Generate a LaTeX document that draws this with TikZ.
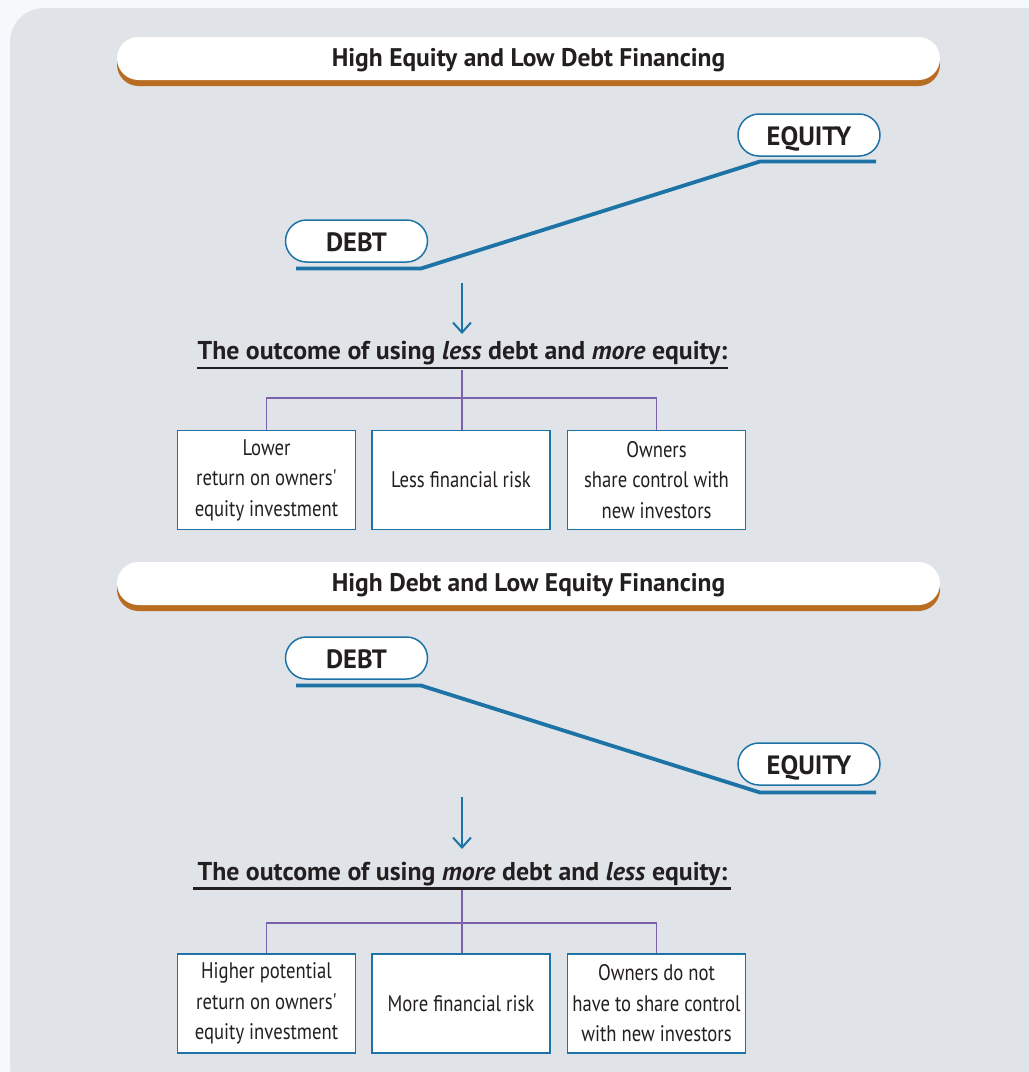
\documentclass[tikz,border=0pt]{standalone}
\usepackage{fontspec}
\setmainfont{PT Sans}
\newfontfamily\narrowfont[FakeStretch=0.83]{PT Sans}
\usetikzlibrary{arrows.meta,shadows}

\definecolor{pagebg}{HTML}{F6F9FB}
\definecolor{panelbg}{HTML}{E0E4E8}
\definecolor{bannershade}{HTML}{B96D22}
\definecolor{steel}{HTML}{1E73A6}
\definecolor{violet}{HTML}{7B62AC}
\definecolor{ink}{HTML}{231F20}

\tikzset{
  banner/.style={rectangle, rounded corners=21.5pt, fill=white,
    minimum width=823pt, minimum height=43pt, inner sep=0pt,
    text height=18pt, text depth=3pt,
    text=ink, font=\bfseries\fontsize{25.5}{30}\selectfont,
    drop shadow={shadow xshift=0pt, shadow yshift=-6pt, fill=bannershade, opacity=1}},
  pill/.style={rectangle, rounded corners=21pt, fill=white, draw=steel,
    line width=1.5pt, minimum width=142pt, minimum height=42pt, inner sep=0pt,
    text height=20pt, text depth=0pt,
    text=ink, font=\bfseries\fontsize{26.5}{30}\selectfont},
  heading/.style={inner sep=0pt, text=ink, font=\bfseries\fontsize{25.8}{30}\selectfont},
  outbox/.style={rectangle, draw=steel, line width=1.8pt, fill=white,
    minimum width=178pt, minimum height=99pt, inner sep=0pt, align=center,
    text=ink, font=\narrowfont\fontsize{22.5}{30.5}\selectfont},
  level/.style={draw=steel, line width=3.8pt},
  flow/.style={draw=steel, line width=2pt, -{Straight Barb[length=10pt,width=18pt,line width=2pt]}},
  rule/.style={draw=ink, line width=2.8pt},
  branch/.style={draw=violet, line width=1.6pt},
}

\begin{document}
\begin{tikzpicture}[x=1pt,y=-1pt]
  % page and panel
  \fill[pagebg] (0,0) rectangle (1029,1072);
  \useasboundingbox (0,0) rectangle (1029,1072);
  \fill[panelbg, rounded corners=34pt] (10,8) rectangle (1060,1100);

  % ---------- upper section ----------
  \node[banner] (ban1) at (528.5,58.5) {High Equity and Low Debt Financing};

  \node[pill] (eq1) at (809,135) {EQUITY};
  \node[pill] (db1) at (356.5,241) {DEBT};
  \coordinate (d1a) at (296,268.5);
  \coordinate (d1b) at (421,268.5);
  \coordinate (e1a) at (760,161.5);
  \coordinate (e1b) at (876,161.5);
  \draw[level] (d1a) -- (d1b) -- (e1a) -- (e1b);

  \coordinate (ar1s) at (462,283);
  \coordinate (ar1e) at (462,334);
  \draw[flow] (ar1s) -- (ar1e);

  \node[heading] (hd1) at (462.5,353) {The outcome of using \textit{less} debt and \textit{more} equity:};
  \coordinate (ul1a) at (197,368);
  \coordinate (ul1b) at (728,368);
  \draw[rule] (ul1a) -- (ul1b);

  \node[outbox] (b11) at (266.5,480) {Lower\\return on owners'\\equity investment};
  \node[outbox] (b12) at (461,480) {Less financial risk};
  \node[outbox] (b13) at (656.5,480) {Owners\\share control with\\new investors};

  \coordinate (br1) at (462,398);
  \draw[branch] (462,369.5) -- (br1);
  \draw[branch] (b11.north) |- (br1) -| (b13.north);
  \draw[branch] (br1) -- (br1 |- b12.north);

  % ---------- lower section ----------
  \node[banner] (ban2) at (528.5,583.5) {High Debt and Low Equity Financing};

  \node[pill] (db2) at (356.5,658) {DEBT};
  \node[pill] (eq2) at (809,764) {EQUITY};
  \coordinate (d2a) at (296,685.5);
  \coordinate (d2b) at (421,685.5);
  \coordinate (e2a) at (760,792.5);
  \coordinate (e2b) at (876,792.5);
  \draw[level] (d2a) -- (d2b) -- (e2a) -- (e2b);

  \coordinate (ar2s) at (462,797);
  \coordinate (ar2e) at (462,849);
  \draw[flow] (ar2s) -- (ar2e);

  \node[heading] (hd2) at (462.5,874) {The outcome of using \textit{more} debt and \textit{less} equity:};
  \coordinate (ul2a) at (193,888.5);
  \coordinate (ul2b) at (731,888.5);
  \draw[rule] (ul2a) -- (ul2b);

  \node[outbox] (b21) at (266.5,1003.5) {Higher potential\\return on owners'\\equity investment};
  \node[outbox] (b22) at (461,1003.5) {More financial risk};
  \node[outbox] (b23) at (656.5,1003.5) {Owners do not\\have to share control\\with new investors};

  \coordinate (br2) at (462,923);
  \draw[branch] (462,890) -- (br2);
  \draw[branch] (b21.north) |- (br2) -| (b23.north);
  \draw[branch] (br2) -- (br2 |- b22.north);
\end{tikzpicture}
\end{document}
